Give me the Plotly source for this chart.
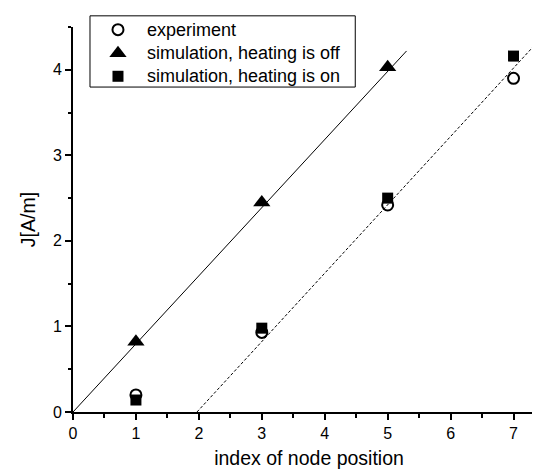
import plotly.graph_objects as go

# data
node_index = [1, 3, 5, 7]
experiment = [0.20, 0.93, 2.42, 3.90]
sim_off_index = [1, 3, 5]
sim_off = [0.82, 2.45, 4.03]
sim_on = [0.14, 0.98, 2.50, 4.16]

fit_off_x = [-0.1, 5.3]
fit_off_y = [-0.08, 4.22]
fit_on_x = [1.97, 7.4]
fit_on_y = [0.0, 4.34]

legend_labels = ["experiment", "simulation, heating is off", "simulation, heating is on"]

FONT = "Liberation Sans, Arial, sans-serif"

# marker styles
M_CIRCLE = dict(symbol="circle-open", size=11, color="black", line=dict(width=2, color="black"))
M_TRI = dict(symbol="triangle-up", size=15, color="black")
M_SQ = dict(symbol="square", size=11, color="black")

fig = go.Figure()
fig.add_trace(go.Scatter(x=fit_off_x, y=fit_off_y, mode="lines",
                         line=dict(color="black", width=1), showlegend=False,
                         cliponaxis=False))
fig.add_trace(go.Scatter(x=fit_on_x, y=fit_on_y, mode="lines",
                         line=dict(color="black", width=1, dash="3px,2px"),
                         showlegend=False, cliponaxis=False))
fig.add_trace(go.Scatter(x=node_index, y=experiment, mode="markers", name=legend_labels[0],
                         marker=M_CIRCLE, showlegend=False))
fig.add_trace(go.Scatter(x=sim_off_index, y=sim_off, mode="markers", name=legend_labels[1],
                         marker=M_TRI, showlegend=False))
fig.add_trace(go.Scatter(x=node_index, y=sim_on, mode="markers", name=legend_labels[2],
                         marker=M_SQ, showlegend=False))

# custom legend (layout in paper-like coordinates of an overlay axis)
LEG_BOX = (0.036, 0.844, 0.598, 1.029)
LEG_KEY_X = 0.0953
LEG_TEXT_X = 0.1525
LEG_ROWS = [0.993, 0.932, 0.872]

fig.add_shape(type="rect", xref="paper", yref="paper",
              x0=LEG_BOX[0], y0=LEG_BOX[1], x1=LEG_BOX[2], y1=LEG_BOX[3],
              line=dict(color="black", width=1), fillcolor="white", layer="below")
for style, yrow in zip([M_CIRCLE, M_TRI, M_SQ], LEG_ROWS):
    fig.add_trace(go.Scatter(x=[LEG_KEY_X], y=[yrow], mode="markers", marker=style,
                             xaxis="x2", yaxis="y2", showlegend=False,
                             cliponaxis=False, hoverinfo="skip"))
for label, yrow in zip(legend_labels, LEG_ROWS):
    fig.add_annotation(x=LEG_TEXT_X, y=yrow, xref="paper", yref="paper",
                       text=label, showarrow=False, xanchor="left", yanchor="middle",
                       font=dict(family=FONT, size=18, color="black"))

axis_common = dict(
    showline=True, linecolor="black", linewidth=2, mirror=False,
    ticks="outside", ticklen=6, tickwidth=1.5, tickcolor="black",
    showgrid=False, zeroline=False, automargin=False,
    tickfont=dict(family=FONT, size=16, color="black"),
    minor=dict(ticks="outside", ticklen=3.5, tickwidth=1.5, tickcolor="black", dtick=0.5,
               showgrid=False),
)

fig.update_layout(
    width=540, height=470,
    margin=dict(l=65, r=3, t=19, b=66),
    paper_bgcolor="white", plot_bgcolor="white",
    font=dict(family=FONT, color="black"),
    showlegend=False,
    xaxis=dict(range=[0, 7.5], dtick=1, tick0=0,
               title=dict(text="index of node position", font=dict(family=FONT, size=19.5),
                          standoff=10),
               **axis_common),
    yaxis=dict(range=[0, 4.5], dtick=1, tick0=0,
               title=dict(text="J[A/m]", font=dict(family=FONT, size=19.5), standoff=12),
               **axis_common),
    xaxis2=dict(range=[0, 1], overlaying="x", visible=False, fixedrange=True),
    yaxis2=dict(range=[0, 1], overlaying="y", visible=False, fixedrange=True),
)

fig.write_html("out.html")
